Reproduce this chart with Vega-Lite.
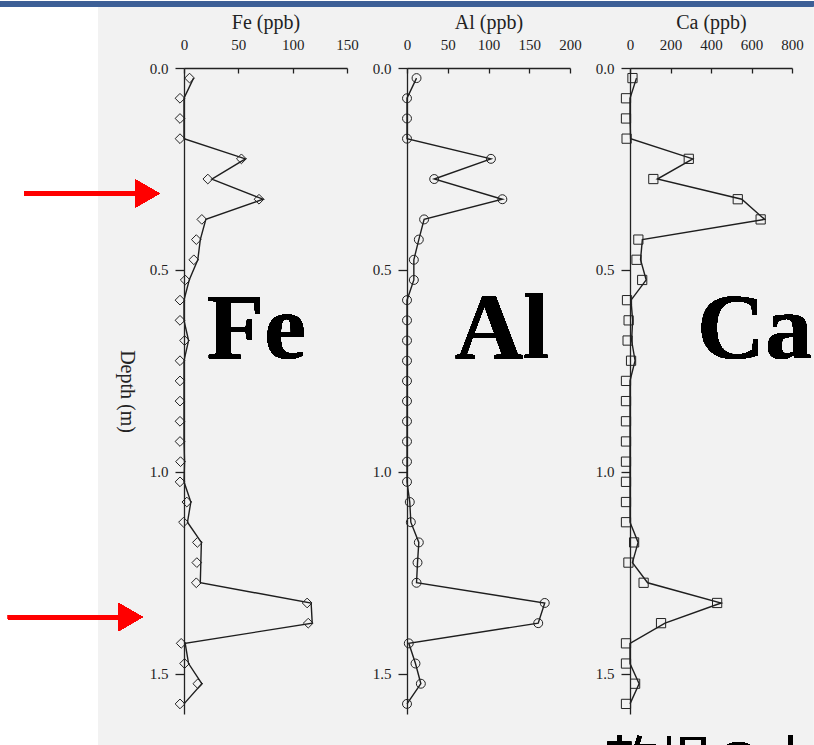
{
  "$schema": "https://vega.github.io/schema/vega-lite/v6.json",
  "background": "white",
  "padding": {"left": 0, "top": 0, "right": 0, "bottom": 0},
  "autosize": {"type": "pad"},
  "bounds": "flush",
  "spacing": 60,
  "datasets": {
    "profile": [
      {"depth": 0.025, "Fe": 8.8, "Al": 11.7, "Ca": 32},
      {"depth": 0.075, "Fe": 0, "Al": 0, "Ca": 0},
      {"depth": 0.125, "Fe": 0, "Al": 0, "Ca": 0},
      {"depth": 0.175, "Fe": 0, "Al": 0, "Ca": 3},
      {"depth": 0.225, "Fe": 56.5, "Al": 103, "Ca": 310},
      {"depth": 0.275, "Fe": 25.6, "Al": 33.4, "Ca": 135},
      {"depth": 0.325, "Fe": 72.7, "Al": 117, "Ca": 552},
      {"depth": 0.375, "Fe": 20.1, "Al": 21, "Ca": 665},
      {"depth": 0.425, "Fe": 15, "Al": 14.5, "Ca": 61},
      {"depth": 0.475, "Fe": 12.7, "Al": 8.4, "Ca": 52},
      {"depth": 0.525, "Fe": 4.8, "Al": 8.4, "Ca": 80},
      {"depth": 0.575, "Fe": 0, "Al": 0, "Ca": 5},
      {"depth": 0.625, "Fe": 0, "Al": 0, "Ca": 13},
      {"depth": 0.675, "Fe": 4.2, "Al": 0, "Ca": 8},
      {"depth": 0.725, "Fe": 0, "Al": 0, "Ca": 25},
      {"depth": 0.775, "Fe": 0, "Al": 0, "Ca": 0},
      {"depth": 0.825, "Fe": 0, "Al": 0, "Ca": 0},
      {"depth": 0.875, "Fe": 0, "Al": 0, "Ca": 0},
      {"depth": 0.925, "Fe": 0, "Al": 0, "Ca": 0},
      {"depth": 0.975, "Fe": 0.5, "Al": 0, "Ca": 0},
      {"depth": 1.025, "Fe": 0, "Al": 0, "Ca": 0},
      {"depth": 1.075, "Fe": 6.3, "Al": 3.4, "Ca": 0},
      {"depth": 1.125, "Fe": 3.2, "Al": 4.7, "Ca": 0},
      {"depth": 1.175, "Fe": 16, "Al": 14.5, "Ca": 40},
      {"depth": 1.225, "Fe": 15.5, "Al": 12.9, "Ca": 12},
      {"depth": 1.275, "Fe": 15, "Al": 11.7, "Ca": 87},
      {"depth": 1.325, "Fe": 117, "Al": 169, "Ca": 450},
      {"depth": 1.375, "Fe": 118, "Al": 161, "Ca": 173},
      {"depth": 1.425, "Fe": 1.1, "Al": 2.2, "Ca": 0},
      {"depth": 1.475, "Fe": 4.2, "Al": 10.4, "Ca": 0},
      {"depth": 1.525, "Fe": 16.4, "Al": 17, "Ca": 45},
      {"depth": 1.575, "Fe": 0, "Al": 0, "Ca": 0}
    ]
  },
  "config": {
    "view": {"stroke": null},
    "font": "Liberation Serif",
    "axis": {
      "grid": false,
      "domainColor": "#222222",
      "domainWidth": 1.3,
      "tickColor": "#222222",
      "tickWidth": 1.3,
      "labelColor": "#222222",
      "titleColor": "#222222",
      "labelFont": "Liberation Serif",
      "titleFont": "Liberation Serif",
      "labelFontSize": 15,
      "titleFontSize": 20,
      "titleFontWeight": "normal"
    },
    "axisX": {"tickSize": -5, "labelPadding": 21, "titlePadding": 5, "labelFlush": false},
    "axisY": {"tickSize": 9, "labelPadding": 7, "titlePadding": 13, "labelFlush": false}
  },
  "hconcat": [
    {
      "width": 163,
      "height": 646,
      "data": {"name": "profile"},
      "layer": [
        {
          "mark": {"type": "rect", "fill": "#f2f2f2"},
          "encoding": {
            "x": {"datum": -79, "type": "quantitative", "scale": {"domain": [0, 150], "nice": false, "zero": false},
                  "axis": {"orient": "top", "values": [0, 50, 100, 150], "title": "Fe (ppb)", "zindex": 1}},
            "x2": {"datum": 579},
            "y": {"datum": -0.153, "type": "quantitative", "scale": {"domain": [0, 1.6], "reverse": true, "nice": false},
                  "axis": {"values": [0, 0.5, 1, 1.5], "format": ".1f", "title": "Depth (m)", "titleAngle": 90, "titleBaseline": "top", "zindex": 1}},
            "y2": {"datum": 1.678}
          }
        },
        {
          "mark": {"type": "rect", "fill": "#3d5f96"},
          "encoding": {
            "x": {"datum": -169.3, "type": "quantitative"},
            "x2": {"datum": 579},
            "y": {"datum": -0.166, "type": "quantitative"},
            "y2": {"datum": -0.153}
          }
        },
        {
          "mark": {"type": "line", "color": "#1e1e1e", "strokeWidth": 1.4},
          "encoding": {
            "x": {"field": "Fe", "type": "quantitative", "scale": {"domain": [0, 150], "nice": false, "zero": false},
                  "axis": {"orient": "top", "values": [0, 50, 100, 150], "title": "Fe (ppb)", "zindex": 1}},
            "y": {"field": "depth", "type": "quantitative", "scale": {"domain": [0, 1.6], "reverse": true, "nice": false},
                  "axis": {"values": [0, 0.5, 1, 1.5], "format": ".1f", "title": "Depth (m)", "titleAngle": 90, "titleBaseline": "top", "zindex": 1}},
            "order": {"field": "depth", "type": "quantitative"}
          }
        },
        {
          "mark": {"type": "point", "shape": "diamond", "size": 95, "filled": false, "color": "#222222", "strokeWidth": 1, "opacity": 1, "xOffset": -4},
          "encoding": {
            "x": {"field": "Fe", "type": "quantitative"},
            "y": {"field": "depth", "type": "quantitative"}
          }
        },
        {
          "mark": {"type": "text", "text": "Fe", "font": "Liberation Serif", "fontWeight": "bold", "fontSize": 94, "align": "left", "baseline": "alphabetic", "color": "#000000"},
          "encoding": {
            "x": {"datum": 21, "type": "quantitative"},
            "y": {"datum": 0.718, "type": "quantitative"}
          }
        },
        {
          "mark": {"type": "rule", "color": "#ff0000", "strokeWidth": 4.3},
          "encoding": {
            "x": {"datum": -147.2, "type": "quantitative"},
            "x2": {"datum": -36},
            "y": {"datum": 0.311, "type": "quantitative"}
          }
        },
        {
          "mark": {"type": "point", "shape": "triangle-right", "size": 760, "filled": true, "color": "#ff0000", "opacity": 1, "strokeWidth": 0},
          "encoding": {
            "x": {"datum": -33.6, "type": "quantitative"},
            "y": {"datum": 0.311, "type": "quantitative"}
          }
        },
        {
          "mark": {"type": "rule", "color": "#ff0000", "strokeWidth": 4.3},
          "encoding": {
            "x": {"datum": -162, "type": "quantitative"},
            "x2": {"datum": -51},
            "y": {"datum": 1.36, "type": "quantitative"}
          }
        },
        {
          "mark": {"type": "point", "shape": "triangle-right", "size": 760, "filled": true, "color": "#ff0000", "opacity": 1, "strokeWidth": 0},
          "encoding": {
            "x": {"datum": -49.2, "type": "quantitative"},
            "y": {"datum": 1.36, "type": "quantitative"}
          }
        }
      ]
    },
    {
      "width": 163,
      "height": 646,
      "data": {"name": "profile"},
      "layer": [
        {
          "mark": {"type": "line", "color": "#1e1e1e", "strokeWidth": 1.4},
          "encoding": {
            "x": {"field": "Al", "type": "quantitative", "scale": {"domain": [0, 200], "nice": false, "zero": false},
                  "axis": {"orient": "top", "values": [0, 50, 100, 150, 200], "title": "Al (ppb)"}},
            "y": {"field": "depth", "type": "quantitative", "scale": {"domain": [0, 1.6], "reverse": true, "nice": false},
                  "axis": {"values": [0, 0.5, 1, 1.5], "format": ".1f", "title": null}},
            "order": {"field": "depth", "type": "quantitative"}
          }
        },
        {
          "mark": {"type": "point", "shape": "circle", "size": 80, "filled": false, "color": "#222222", "strokeWidth": 1, "opacity": 1},
          "encoding": {
            "x": {"field": "Al", "type": "quantitative"},
            "y": {"field": "depth", "type": "quantitative"}
          }
        },
        {
          "mark": {"type": "text", "text": "Al", "font": "Liberation Serif", "fontWeight": "bold", "fontSize": 94, "align": "left", "baseline": "alphabetic", "color": "#000000"},
          "encoding": {
            "x": {"datum": 59, "type": "quantitative"},
            "y": {"datum": 0.718, "type": "quantitative"}
          }
        }
      ]
    },
    {
      "width": 162,
      "height": 646,
      "data": {"name": "profile"},
      "layer": [
        {
          "mark": {"type": "line", "color": "#1e1e1e", "strokeWidth": 1.4},
          "encoding": {
            "x": {"field": "Ca", "type": "quantitative", "scale": {"domain": [0, 800], "nice": false, "zero": false},
                  "axis": {"orient": "top", "values": [0, 200, 400, 600, 800], "title": "Ca (ppb)"}},
            "y": {"field": "depth", "type": "quantitative", "scale": {"domain": [0, 1.6], "reverse": true, "nice": false},
                  "axis": {"values": [0, 0.5, 1, 1.5], "format": ".1f", "title": null}},
            "order": {"field": "depth", "type": "quantitative"}
          }
        },
        {
          "mark": {"type": "point", "shape": "square", "size": 85, "filled": false, "color": "#222222", "strokeWidth": 1, "opacity": 1, "xOffset": -4},
          "encoding": {
            "x": {"field": "Ca", "type": "quantitative"},
            "y": {"field": "depth", "type": "quantitative"}
          }
        },
        {
          "mark": {"type": "text", "text": "Ca", "font": "Liberation Serif", "fontWeight": "bold", "fontSize": 94, "align": "left", "baseline": "alphabetic", "color": "#000000"},
          "encoding": {
            "x": {"datum": 331, "type": "quantitative"},
            "y": {"datum": 0.718, "type": "quantitative"}
          }
        },
        {
          "mark": {"type": "text", "text": "乾場の土", "font": "Noto Sans CJK JP", "fontSize": 53, "align": "left", "baseline": "top", "color": "#000000"},
          "encoding": {
            "x": {"datum": -123, "type": "quantitative"},
            "y": {"datum": 1.662, "type": "quantitative"}
          }
        }
      ]
    }
  ]
}
